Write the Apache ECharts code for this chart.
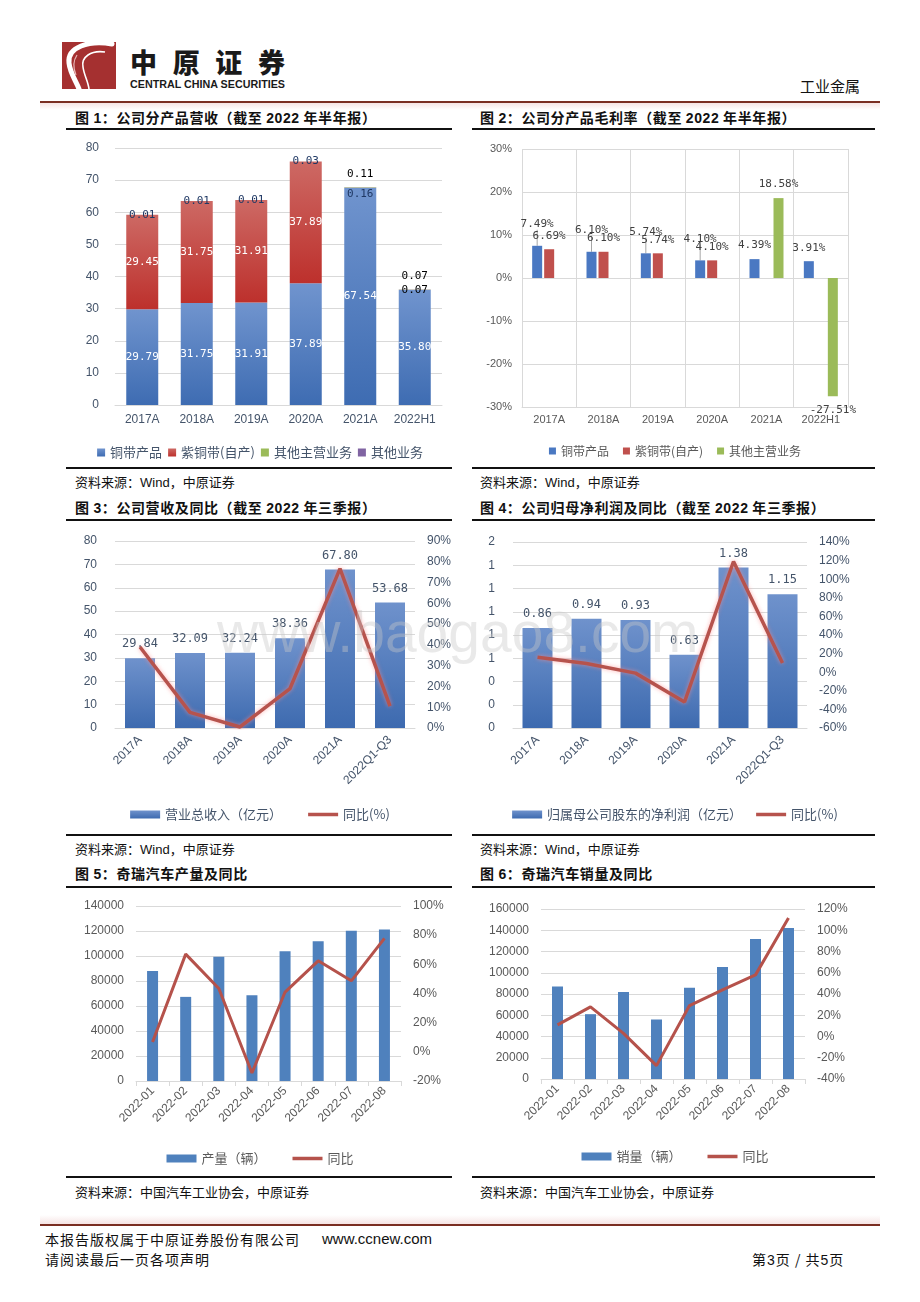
<!DOCTYPE html>
<html lang="zh-CN">
<head>
<meta charset="utf-8">
<title>工业金属</title>
<script src="https://cdn.jsdelivr.net/npm/echarts@6.0.0/dist/echarts.min.js"></script>
<style>
html,body{margin:0;padding:0;background:#fff;}
#page{position:relative;width:920px;height:1302px;overflow:hidden;font-family:"Noto Sans CJK SC","Liberation Sans",sans-serif;color:#000;background:#fff;}
.abs{position:absolute;}
.title{position:absolute;font-size:14px;font-weight:700;line-height:18px;white-space:nowrap;letter-spacing:0.6px;color:#111;}
.title b{font-family:"Liberation Sans",sans-serif;font-weight:700;}
.src{position:absolute;font-size:13px;line-height:16px;white-space:nowrap;color:#111;}
.src span{font-family:"Liberation Sans",sans-serif;}
.rule{position:absolute;height:2px;background:#111;}
.chart{position:absolute;}
.foot{position:absolute;font-size:14px;line-height:18px;white-space:nowrap;letter-spacing:1px;color:#111;}
#wm{position:absolute;left:217px;top:604px;font-family:"Liberation Sans",sans-serif;font-size:57px;line-height:57px;color:rgba(200,200,200,0.4);z-index:10;pointer-events:none;white-space:nowrap;}
</style>
</head>
<body>
<div id="page">
  <!-- header -->
  <svg class="abs" style="left:55px;top:35px" width="260" height="62">
    <rect x="7" y="7" width="54" height="47" fill="#A53030"/>
    <path d="M 57 9 C 34 5, 12 12, 14 28 C 15 38, 21 46, 24 54" fill="none" stroke="#fff" stroke-width="5" stroke-linecap="round"/>
    <path d="M 50 17 C 36 15, 26 22, 28 32 C 29 40, 33 46, 34 54" fill="none" stroke="#fff" stroke-width="1.6"/>
    <path d="M 22 20 C 18 26, 18 33, 21 40" fill="none" stroke="#E8B8B8" stroke-width="1.2"/>
    <text x="75" y="38" font-family="Noto Sans CJK SC" font-weight="900" font-size="27" textLength="155" lengthAdjust="spacing" fill="#1a1a1a">中原证券</text>
    <text x="75" y="53" font-family="Liberation Sans" font-weight="700" font-size="10.5" textLength="155" lengthAdjust="spacingAndGlyphs" fill="#1a1a1a">CENTRAL CHINA SECURITIES</text>
  </svg>
  <div class="abs" style="left:800px;top:76px;font-size:15px;line-height:20px;letter-spacing:0px;color:#111;">工业金属</div>
  <div class="abs" style="left:40px;top:101px;width:840px;height:2px;background:#7A2E22;"></div>
  <div class="abs" style="left:40px;top:103px;width:840px;height:7px;background:linear-gradient(#F6E4E4,#fff);"></div>

  <!-- row 1 -->
  <div class="title" style="left:75px;top:108px;">图 <b>1</b>：公司分产品营收（截至 <b>2022</b> 年半年报）</div>
  <div class="title" style="left:480px;top:108px;">图 <b>2</b>：公司分产品毛利率（截至 <b>2022</b> 年半年报）</div>
  <div class="rule" style="left:66px;top:128px;width:386px;"></div>
  <div class="rule" style="left:472px;top:128px;width:403px;"></div>
  <div id="c1" class="chart" style="left:60px;top:132px;width:400px;height:333px;"></div>
  <div id="c2" class="chart" style="left:470px;top:132px;width:410px;height:333px;"></div>
  <div class="rule" style="left:66px;top:467px;width:386px;"></div>
  <div class="rule" style="left:472px;top:467px;width:403px;"></div>
  <div class="src" style="left:75px;top:474px;">资料来源：<span>Wind</span>，中原证券</div>
  <div class="src" style="left:480px;top:474px;">资料来源：<span>Wind</span>，中原证券</div>

  <!-- row 2 -->
  <div class="title" style="left:75px;top:498px;">图 <b>3</b>：公司营收及同比（截至 <b>2022</b> 年三季报）</div>
  <div class="title" style="left:480px;top:498px;">图 <b>4</b>：公司归母净利润及同比（截至 <b>2022</b> 年三季报）</div>
  <div class="rule" style="left:66px;top:519px;width:386px;"></div>
  <div class="rule" style="left:472px;top:519px;width:403px;"></div>
  <div id="c3" class="chart" style="left:60px;top:522px;width:400px;height:310px;"></div>
  <div id="c4" class="chart" style="left:470px;top:522px;width:410px;height:310px;"></div>
  <div class="rule" style="left:66px;top:834px;width:386px;"></div>
  <div class="rule" style="left:472px;top:834px;width:403px;"></div>
  <div class="src" style="left:75px;top:841px;">资料来源：<span>Wind</span>，中原证券</div>
  <div class="src" style="left:480px;top:841px;">资料来源：<span>Wind</span>，中原证券</div>

  <!-- row 3 -->
  <div class="title" style="left:75px;top:864px;">图 <b>5</b>：奇瑞汽车产量及同比</div>
  <div class="title" style="left:480px;top:864px;">图 <b>6</b>：奇瑞汽车销量及同比</div>
  <div class="rule" style="left:66px;top:886px;width:386px;"></div>
  <div class="rule" style="left:472px;top:886px;width:403px;"></div>
  <div id="c5" class="chart" style="left:60px;top:890px;width:400px;height:285px;"></div>
  <div id="c6" class="chart" style="left:470px;top:890px;width:410px;height:285px;"></div>
  <div class="rule" style="left:66px;top:1176px;width:386px;"></div>
  <div class="rule" style="left:472px;top:1176px;width:403px;"></div>
  <div class="src" style="left:75px;top:1184px;">资料来源：中国汽车工业协会，中原证券</div>
  <div class="src" style="left:480px;top:1184px;">资料来源：中国汽车工业协会，中原证券</div>

  <!-- footer -->
  <div class="abs" style="left:40px;top:1215px;width:840px;height:9px;background:linear-gradient(#fff,#F6E4E4);"></div>
  <div class="abs" style="left:40px;top:1224px;width:840px;height:2px;background:#7A2E22;"></div>
  <div class="foot" style="left:45px;top:1230px;">本报告版权属于中原证券股份有限公司</div>
  <div class="foot" style="left:322px;top:1230px;font-family:'Liberation Sans',sans-serif;font-size:15px;letter-spacing:0;">www.ccnew.com</div>
  <div class="foot" style="left:45px;top:1250px;">请阅读最后一页各项声明</div>
  <div class="foot" style="left:752px;top:1250px;">第<span style="font-family:'Liberation Sans';">3</span>页 / 共<span style="font-family:'Liberation Sans';">5</span>页</div>

  <div id="wm">www.baogao8.com</div>
</div>

<script>
// ---------------- data ----------------
const yearCats = ['2017A', '2018A', '2019A', '2020A', '2021A', '2022H1'];
const revCopperStrip = [29.79, 31.75, 31.91, 37.89, 67.54, 35.80];
const revPureCopper = [29.45, 31.75, 31.91, 37.89, null, null];
const revOtherMain = [null, null, null, null, 0.16, 0.07];
const revOtherBiz = [0.01, 0.01, 0.01, 0.03, 0.11, 0.07];

const gmCopperStrip = [7.49, 6.10, 5.74, 4.10, 4.39, 3.91];
const gmPureCopper = [6.69, 6.10, 5.74, 4.10, null, null];
const gmOtherMain = [null, null, null, null, 18.58, -27.51];

const quarterCats = ['2017A', '2018A', '2019A', '2020A', '2021A', '2022Q1-Q3'];
const totalRevenue = [29.84, 32.09, 32.24, 38.36, 67.80, 53.68];
const totalRevenueYoY = [39.0, 7.5, 0.5, 19.0, 76.7, 10.5];
const netProfit = [0.86, 0.94, 0.93, 0.63, 1.38, 1.15];
const netProfitYoY = [16, 9.3, -1, -32, 119, 10];

const monthCats = ['2022-01', '2022-02', '2022-03', '2022-04', '2022-05', '2022-06', '2022-07', '2022-08'];
const cheryOutput = [88000, 67300, 99400, 68700, 103900, 111900, 120200, 121300];
const cheryOutputYoY = [6.8, 67, 43.4, -14.5, 41, 62.4, 48.7, 77.8];
const cherySales = [87100, 61000, 82000, 56000, 85800, 105300, 131700, 142100];
const cherySalesYoY = [10.9, 27.9, 3, -27.4, 29.1, 43.9, 58, 111.5];

// ---------------- helpers ----------------
const fMono = 'DejaVu Sans Mono';
const fLat = 'Liberation Sans';
const fCJK = 'Noto Sans CJK SC';
const navy = '#1F3864';
const grid = '#D9D9D9';
// thick line legend icon (bounding box 30x8, filled stripe in the middle)
const lineIcon = 'path://M0,0L0.01,0L0,0.01Z M0,2.2L30,2.2L30,5.8L0,5.8Z M29.99,8L30,8L30,7.99Z';
function grad(a, b) {
  return new echarts.graphic.LinearGradient(0, 0, 0, 1, [{offset: 0, color: a}, {offset: 1, color: b}]);
}
const fmt2 = p => (p.value == null ? '' : Number(p.value).toFixed(2));
const fmtPct = p => (p.value == null ? '' : Number(p.value).toFixed(2) + '%');
function init(id) { return echarts.init(document.getElementById(id), null, {renderer: 'canvas'}); }

// ---------------- chart 1 ----------------
init('c1').setOption({
  animation: false,
  textStyle: {fontFamily: fLat},
  grid: {left: 55, right: 18, top: 16, bottom: 60},
  legend: {top: 309, left: 'center', icon: 'rect', itemWidth: 8, itemHeight: 8, itemGap: 6,
    textStyle: {fontFamily: fCJK, fontSize: 13, color: '#44546A'}},
  xAxis: {type: 'category', data: yearCats, axisLine: {lineStyle: {color: grid}}, axisTick: {show: false},
    axisLabel: {color: '#44546A', fontSize: 12, margin: 9, interval: 0}},
  yAxis: {type: 'value', min: 0, max: 80, interval: 10, axisLabel: {color: '#44546A', fontSize: 12, margin: 16},
    splitLine: {lineStyle: {color: grid}}},
  series: [
    {name: '铜带产品', type: 'bar', stack: 's', barWidth: 32, data: revCopperStrip,
      itemStyle: {color: grad('#7094CE', '#3E6CB2')},
      label: {show: true, position: 'inside', color: '#fff', fontFamily: fMono, fontSize: 11, formatter: fmt2}},
    {name: '紫铜带(自产)', type: 'bar', stack: 's', data: revPureCopper,
      itemStyle: {color: grad('#CD6964', '#BD302C')},
      label: {show: true, position: 'inside', color: '#fff', fontFamily: fMono, fontSize: 11, formatter: fmt2}},
    {name: '其他主营业务', type: 'bar', stack: 's', itemStyle: {color: '#9BBB59'},
      label: {fontFamily: fMono, fontSize: 11, formatter: fmt2},
      data: revOtherMain.map((v, i) => ({value: v,
        label: i === 4 ? {show: true, position: 'inside', offset: [0, 6], color: navy}
             : i === 5 ? {show: true, position: 'inside', color: '#000'} : {show: false}}))},
    {name: '其他业务', type: 'bar', stack: 's', itemStyle: {color: '#8064A2'},
      label: {fontFamily: fMono, fontSize: 11, formatter: fmt2},
      data: revOtherBiz.map((v, i) => ({value: v,
        label: i < 4 ? {show: true, position: 'inside', color: navy}
                     : {show: true, position: 'top', distance: 8, color: '#000'}}))}
  ]
});

// ---------------- chart 2 ----------------
init('c2').setOption({
  animation: false,
  textStyle: {fontFamily: fLat},
  grid: {left: 52, right: 32, top: 17, bottom: 58},
  legend: {top: 308, left: 'center', icon: 'rect', itemWidth: 7, itemHeight: 7, itemGap: 14,
    textStyle: {fontFamily: fCJK, fontSize: 12, color: '#595959'}},
  xAxis: {type: 'category', data: yearCats, axisLine: {onZero: false, lineStyle: {color: grid}}, axisTick: {show: false},
    axisLabel: {color: '#595959', fontSize: 11, margin: 7, interval: 0}, splitLine: {show: true, lineStyle: {color: grid}}},
  yAxis: {type: 'value', min: -30, max: 30, interval: 10,
    axisLabel: {color: '#595959', fontSize: 11, margin: 10, formatter: '{value}%'},
    splitLine: {lineStyle: {color: grid}}},
  series: [
    {name: '铜带产品', type: 'bar', barWidth: 10, barGap: '20%', itemStyle: {color: '#4A78C2'},
      data: gmCopperStrip.map((v, i) => i < 4 ? {value: v, labelLine: {show: true, lineStyle: {color: '#A6A6A6', width: 1}}} : {value: v}),
      label: {show: true, position: 'top', distance: 8, color: '#404040', fontFamily: fMono, fontSize: 11, formatter: fmtPct},
      labelLayout: p => (p.dataIndex < 4 ? {dy: -8} : {})},
    {name: '紫铜带(自产)', type: 'bar', barWidth: 10, barGap: '20%', itemStyle: {color: '#C0504D'}, data: gmPureCopper,
      label: {show: true, position: 'top', distance: 8, color: '#404040', fontFamily: fMono, fontSize: 11, formatter: fmtPct}},
    {name: '其他主营业务', type: 'bar', barWidth: 10, barGap: '20%', itemStyle: {color: '#9BBB59'},
      data: gmOtherMain.map(v => ({value: v, label: {position: v != null && v < 0 ? 'bottom' : 'top'}})),
      label: {show: true, distance: 8, color: '#404040', fontFamily: fMono, fontSize: 11, formatter: fmtPct}}
  ]
});

// ---------------- chart 3 ----------------
const lineRed = '#B6534D';
const lineGlow = {color: lineRed, width: 3.5, shadowColor: 'rgba(255,140,140,0.65)', shadowBlur: 4};
init('c3').setOption({
  animation: false,
  textStyle: {fontFamily: fLat},
  grid: {left: 55, right: 45, top: 19, bottom: 104},
  legend: {top: 281, left: 'center', itemWidth: 30, itemHeight: 8, itemGap: 26,
    textStyle: {fontFamily: fCJK, fontSize: 13, color: '#44546A'},
    data: [{name: '营业总收入（亿元）', icon: 'rect'}, {name: '同比(%)', icon: lineIcon}]},
  xAxis: {type: 'category', data: quarterCats, axisLine: {lineStyle: {color: grid}}, axisTick: {show: false},
    axisLabel: {rotate: 45, color: '#44546A', fontSize: 12, margin: 10, interval: 0}},
  yAxis: [
    {type: 'value', min: 0, max: 80, interval: 10, axisLabel: {color: '#44546A', fontSize: 12, margin: 18},
      splitLine: {lineStyle: {color: grid}}},
    {type: 'value', position: 'right', min: 0, max: 90, interval: 10, splitLine: {show: false},
      axisLabel: {color: '#44546A', fontSize: 12, margin: 12, formatter: '{value}%'}}
  ],
  series: [
    {name: '营业总收入（亿元）', type: 'bar', barWidth: 30, data: totalRevenue,
      itemStyle: {color: grad('#6F92CC', '#3D6AAF')},
      label: {show: true, position: 'top', distance: 8, color: '#44546A', fontFamily: fMono, fontSize: 12, formatter: fmt2}},
    {name: '同比(%)', type: 'line', yAxisIndex: 1, data: totalRevenueYoY, symbol: 'none',
      lineStyle: lineGlow, itemStyle: {color: lineRed}}
  ]
});

// ---------------- chart 4 ----------------
init('c4').setOption({
  animation: false,
  textStyle: {fontFamily: fLat},
  grid: {left: 43, right: 73, top: 20, bottom: 104},
  legend: {top: 281, left: 'center', itemWidth: 30, itemHeight: 8, itemGap: 14,
    textStyle: {fontFamily: fCJK, fontSize: 13, color: '#44546A'},
    data: [{name: '归属母公司股东的净利润（亿元）', icon: 'rect'}, {name: '同比(%)', icon: lineIcon}]},
  xAxis: {type: 'category', data: quarterCats, axisLine: {lineStyle: {color: grid}}, axisTick: {show: false},
    axisLabel: {rotate: 45, color: '#44546A', fontSize: 12, margin: 10, interval: 0}},
  yAxis: [
    {type: 'value', min: 0, max: 1.6, interval: 0.2,
      axisLabel: {color: '#44546A', fontSize: 12, margin: 18, formatter: v => String(Math.round(v))},
      splitLine: {lineStyle: {color: grid}}},
    {type: 'value', position: 'right', min: -60, max: 140, interval: 20, splitLine: {show: false},
      axisLabel: {color: '#44546A', fontSize: 12, margin: 12, formatter: '{value}%'}}
  ],
  series: [
    {name: '归属母公司股东的净利润（亿元）', type: 'bar', barWidth: 30, data: netProfit,
      itemStyle: {color: grad('#6F92CC', '#3D6AAF')},
      label: {show: true, position: 'top', distance: 8, color: '#44546A', fontFamily: fMono, fontSize: 12, formatter: fmt2}},
    {name: '同比(%)', type: 'line', yAxisIndex: 1, data: netProfitYoY, symbol: 'none',
      lineStyle: lineGlow, itemStyle: {color: lineRed}}
  ]
});

// ---------------- chart 5 & 6 ----------------
function cheryChart(id, g, barName, bars, yoy, leftMax, rightMin, rightMax, legendTop) {
  init(id).setOption({
    animation: false,
    textStyle: {fontFamily: fLat},
    grid: g,
    legend: {top: legendTop, left: 'center', itemWidth: 30, itemHeight: 8, itemGap: 26,
      textStyle: {fontFamily: fCJK, fontSize: 13, color: '#595959'},
      data: [{name: barName, icon: 'rect'}, {name: '同比', icon: lineIcon}]},
    xAxis: {type: 'category', data: monthCats, axisLine: {lineStyle: {color: grid}},
      axisTick: {show: true, length: 5, lineStyle: {color: grid}},
      axisLabel: {rotate: 45, color: '#595959', fontSize: 12, margin: 8, interval: 0}},
    yAxis: [
      {type: 'value', min: 0, max: leftMax, interval: 20000,
        axisLabel: {color: '#595959', fontSize: 12, margin: 12, formatter: v => String(v)},
        splitLine: {lineStyle: {color: grid}}},
      {type: 'value', position: 'right', min: rightMin, max: rightMax, interval: 20, splitLine: {show: false},
        axisLabel: {color: '#595959', fontSize: 12, margin: 12, formatter: '{value}%'}}
    ],
    series: [
      {name: barName, type: 'bar', barWidth: 11, data: bars, itemStyle: {color: '#4F81BD'}},
      {name: '同比', type: 'line', yAxisIndex: 1, data: yoy, symbol: 'none',
        lineStyle: {color: '#B5524B', width: 3}, itemStyle: {color: '#B5524B'}}
    ]
  });
}
cheryChart('c5', {left: 76, right: 59, top: 16, bottom: 94}, '产量（辆）', cheryOutput, cheryOutputYoY, 140000, -20, 100, 257);
cheryChart('c6', {left: 71, right: 75, top: 19, bottom: 96}, '销量（辆）', cherySales, cherySalesYoY, 160000, -40, 120, 255);
</script>
</body>
</html>
